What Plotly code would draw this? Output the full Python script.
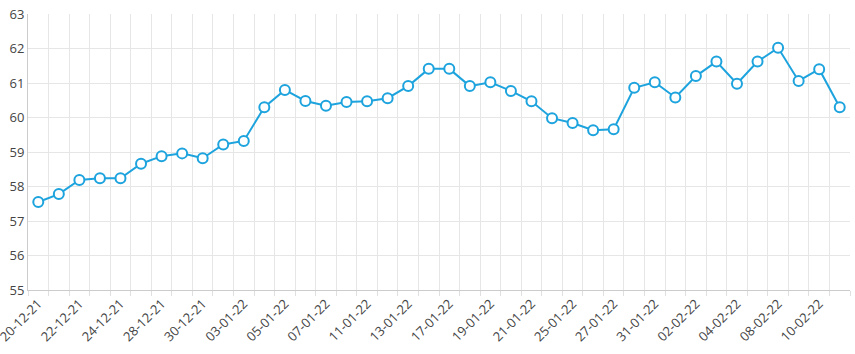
import plotly.graph_objects as go

dates = ["20-12-21","21-12-21","22-12-21","23-12-21","24-12-21","27-12-21","28-12-21","29-12-21","30-12-21","31-12-21",
         "03-01-22","04-01-22","05-01-22","06-01-22","07-01-22","10-01-22","11-01-22","12-01-22","13-01-22","14-01-22",
         "17-01-22","18-01-22","19-01-22","20-01-22","21-01-22","24-01-22","25-01-22","26-01-22","27-01-22","28-01-22",
         "31-01-22","01-02-22","02-02-22","03-02-22","04-02-22","07-02-22","08-02-22","09-02-22","10-02-22","11-02-22"]
values = [57.55, 57.78, 58.19, 58.24, 58.24, 58.66, 58.88, 58.96, 58.82, 59.22,
          59.32, 60.30, 60.80, 60.48, 60.34, 60.45, 60.47, 60.56, 60.91, 61.41,
          61.41, 60.91, 61.02, 60.77, 60.47, 59.98, 59.84, 59.63, 59.66, 60.86,
          61.02, 60.58, 61.20, 61.62, 60.98, 61.62, 62.02, 61.06, 61.40, 60.30]

color = "#1DA3DD"
x = list(range(len(dates)))

fig = go.Figure(go.Scatter(
    x=x, y=values, mode="lines+markers",
    line=dict(color=color, width=2),
    marker=dict(symbol="circle", size=10, color="white", line=dict(color=color, width=2)),
    hoverinfo="x+y",
))

fig.update_layout(
    width=855, height=354,
    margin=dict(l=28, r=5, t=14, b=64, autoexpand=False),
    paper_bgcolor="white", plot_bgcolor="white",
    showlegend=False,
    font=dict(family="Open Sans, Noto Sans, sans-serif", size=13, color="#444"),
)
fig.update_xaxes(
    range=[-0.5, len(dates) - 0.5],
    tickvals=x[::2], ticktext=dates[::2], tickangle=-45,
    ticklabeloverflow="allow", automargin=False,
    showgrid=False, ticks="",
    showline=True, linecolor="#cccccc", linewidth=1,
    minor=dict(tickvals=[i - 0.5 for i in range(len(dates) + 1)], showgrid=True,
               gridcolor="#e6e6e6", gridwidth=1, ticks="outside", ticklen=5, tickcolor="#e0e0e0"),
    zeroline=False,
)
fig.update_yaxes(
    range=[55, 63], dtick=1, automargin=False,
    showgrid=True, gridcolor="#e6e6e6", gridwidth=1,
    showline=True, linecolor="#cccccc", linewidth=1,
    ticks="", zeroline=False,
)

fig.write_html("out.html")
